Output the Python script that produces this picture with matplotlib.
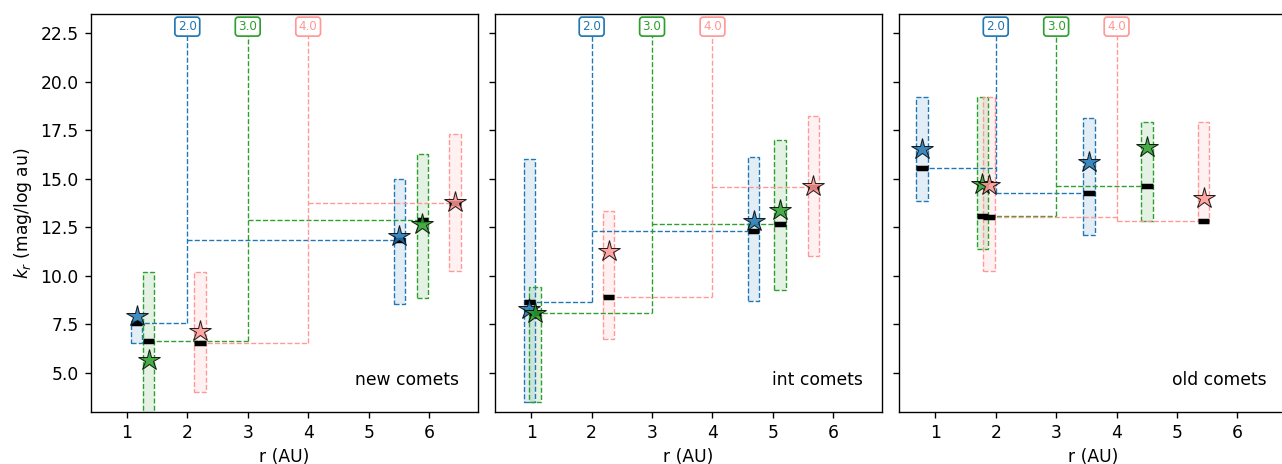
import matplotlib
matplotlib.use("Agg")
import matplotlib.pyplot as plt
from matplotlib.patches import Rectangle

# Heliocentric distance thresholds splitting each sample into two bins
thresholds = [2.0, 3.0, 4.0]
colors = ["#1f77b4", "#2ca02c", "#ff9896"]
panel_names = ["new comets", "int comets", "old comets"]

# For each panel and threshold: [inner bin, outer bin]
# r: mean distance of bin, k_mean: mean k_r, k_med: median k_r, k_lo/k_hi: spread
new_r      = [[1.16, 5.51], [1.36, 5.89], [2.21, 6.43]]
new_kmean  = [[7.94, 12.05], [5.65, 12.70], [7.16, 13.82]]
new_kmed   = [[7.57, 11.84], [6.63, 12.87], [6.54, 13.78]]
new_klo    = [[6.52, 8.57], [2.50, 8.86], [4.00, 10.26]]
new_khi    = [[7.57, 14.99], [10.21, 16.26], [10.21, 17.29]]

int_r      = [[0.97, 4.68], [1.06, 5.12], [2.28, 5.67]]
int_kmean  = [[8.27, 12.84], [8.09, 13.39], [11.27, 14.64]]
int_kmed   = [[8.63, 12.32], [8.11, 12.67], [8.92, 14.56]]
int_klo    = [[3.50, 8.69], [3.50, 9.25], [6.73, 11.03]]
int_khi    = [[16.02, 16.14], [9.42, 17.00], [13.34, 18.22]]

old_r      = [[0.78, 3.54], [1.78, 4.50], [1.89, 5.44]]
old_kmean  = [[16.52, 15.88], [14.73, 16.65], [14.69, 14.04]]
old_kmed   = [[15.57, 14.26], [13.11, 14.66], [13.06, 12.82]]
old_klo    = [[13.87, 12.10], [11.41, 12.82], [10.26, 12.82]]
old_khi    = [[19.21, 18.12], [19.21, 17.94], [19.21, 17.94]]

panels = [
    (new_r, new_kmean, new_kmed, new_klo, new_khi),
    (int_r, int_kmean, int_kmed, int_klo, int_khi),
    (old_r, old_kmean, old_kmed, old_klo, old_khi),
]

xticks = [1, 2, 3, 4, 5, 6]
yticks = [5.0, 7.5, 10.0, 12.5, 15.0, 17.5, 20.0, 22.5]
label_y = 22.85
box_w = 0.19

dpi = 123
fig = plt.figure(figsize=(1282 / dpi, 464 / dpi), dpi=dpi)

ax_w = 0.3021
ax_b, ax_h = 0.1127, 0.8571
lefts = [0.0707, 0.3861, 0.7013]
axes = []
for i, left in enumerate(lefts):
    if i == 0:
        ax = fig.add_axes([left, ax_b, ax_w, ax_h])
    else:
        ax = fig.add_axes([left, ax_b, ax_w, ax_h], sharey=axes[0])
        ax.tick_params(labelleft=False)
    axes.append(ax)

for ax, name, (rr, kmean, kmed, klo, khi) in zip(axes, panel_names, panels):
    for j, (thr, c) in enumerate(zip(thresholds, colors)):
        # spread boxes and median bars for both bins
        for b in range(2):
            x = rr[j][b]
            ax.add_patch(Rectangle((x - box_w / 2, klo[j][b]), box_w,
                                   khi[j][b] - klo[j][b],
                                   facecolor=c, alpha=0.13, edgecolor="none",
                                   zorder=1))
            ax.add_patch(Rectangle((x - box_w / 2, klo[j][b]), box_w,
                                   khi[j][b] - klo[j][b],
                                   facecolor="none", edgecolor=c, ls="--",
                                   lw=0.8, zorder=1.5))
            ax.plot([x - box_w / 2, x + box_w / 2], [kmed[j][b]] * 2,
                    color="k", lw=3.2, solid_capstyle="butt", zorder=3)
        # step connecting the medians through the threshold
        ax.plot([rr[j][0], thr], [kmed[j][0]] * 2, color=c, ls="--",
                lw=0.8, zorder=2)
        ax.plot([thr, rr[j][1]], [kmed[j][1]] * 2, color=c, ls="--",
                lw=0.8, zorder=2)
        ax.plot([thr, thr], [min(kmed[j]), label_y], color=c, ls="--",
                lw=0.8, zorder=2)
        ax.text(thr, label_y, f"{thr:.1f}", ha="center", va="center",
                fontsize=7, color=c, zorder=5,
                bbox=dict(boxstyle="round,pad=0.25", fc="white", ec=c,
                          lw=1.0))
        # mean values
        ax.plot(rr[j], kmean[j], ls="none", marker="*", ms=13,
                mfc=c, mec="k", mew=0.6, alpha=0.85, zorder=4)

    ax.text(0.95, 0.08, name, transform=ax.transAxes, ha="right",
            va="center", fontsize=10)
    ax.set_xlim(0.4, 6.81)
    ax.set_ylim(3.0, 23.5)
    ax.set_xticks(xticks)
    ax.set_yticks(yticks)
    ax.set_xlabel("r (AU)")

axes[0].set_ylabel(r"$k_r$ (mag/log au)")

fig.savefig("out.png", dpi=dpi)
